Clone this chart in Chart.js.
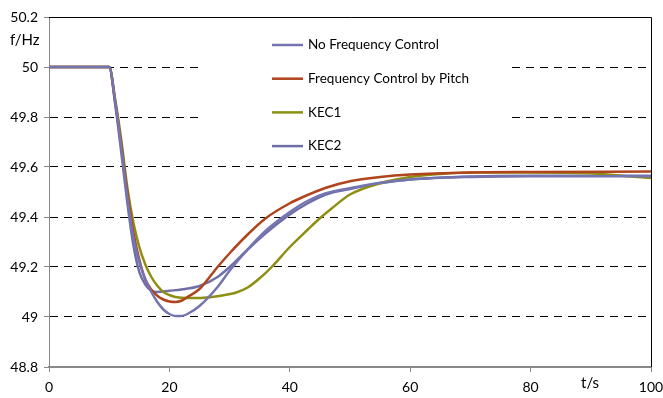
<!DOCTYPE html>
<html>
<head>
<meta charset="utf-8">
<script src="https://cdn.jsdelivr.net/npm/chart.js@4"></script>
<style>
  html, body { margin: 0; padding: 0; background: #fff; }
  #wrap { width: 663px; height: 398px; }
</style>
</head>
<body>
<div id="wrap"><canvas id="myChart"></canvas></div>
<script>
// time (s) and frequency (Hz)
const tNoCtrl = [0, 10, 11, 12, 13, 14, 15, 16, 17, 18, 19, 20, 21, 22, 23, 25, 28, 30, 33, 36, 40, 43, 46, 50, 55, 60, 70, 80, 100];
const fNoCtrl = [50, 50, 49.86, 49.68, 49.48, 49.32, 49.22, 49.15, 49.1, 49.06, 49.03, 49.012, 49.004, 49.004, 49.012, 49.044, 49.12, 49.185, 49.27, 49.345, 49.42, 49.465, 49.495, 49.515, 49.537, 49.55, 49.56, 49.563, 49.563];

const tPitch = [0, 10, 11, 12, 13, 14, 15, 16, 17, 18, 19, 20, 21, 22, 23, 25, 28, 30, 33, 36, 40, 42, 46, 50, 55, 60, 70, 80, 100];
const fPitch = [50, 50, 49.86, 49.69, 49.5, 49.34, 49.23, 49.15, 49.11, 49.085, 49.07, 49.062, 49.06, 49.065, 49.08, 49.112, 49.2, 49.255, 49.33, 49.395, 49.455, 49.478, 49.517, 49.543, 49.56, 49.57, 49.578, 49.58, 49.582];

const tKEC1 = [0, 10, 11, 12, 13, 14, 15, 16, 17, 18, 19, 20, 21, 23, 25, 27, 29, 31, 33, 35, 37, 40, 43, 45, 47, 50, 55, 60, 65, 70, 80, 90, 95, 100];
const fKEC1 = [50, 50, 49.87, 49.71, 49.52, 49.38, 49.28, 49.21, 49.16, 49.125, 49.1, 49.088, 49.08, 49.076, 49.076, 49.08, 49.087, 49.097, 49.118, 49.155, 49.2, 49.28, 49.35, 49.395, 49.435, 49.49, 49.535, 49.56, 49.572, 49.578, 49.578, 49.575, 49.565, 49.556];

const tKEC2 = [0, 10, 11, 12, 13, 14, 15, 16, 17, 18, 20, 22, 25, 28, 30, 33, 36, 40, 43, 46, 50, 55, 60, 70, 80, 100];
const fKEC2 = [50, 50, 49.85, 49.66, 49.46, 49.29, 49.18, 49.13, 49.105, 49.1, 49.105, 49.11, 49.124, 49.16, 49.2, 49.27, 49.335, 49.41, 49.455, 49.49, 49.512, 49.535, 49.55, 49.562, 49.565, 49.565];

const seriesNames = ['No Frequency Control', 'Frequency Control by Pitch', 'KEC1', 'KEC2'];
const seriesColors = ['#7474b0', '#b0441c', '#8e8e12', '#6f6fa8'];

const yTicks = [48.8, 49, 49.2, 49.4, 49.6, 49.8, 50, 50.2];
const xTicks = [0, 20, 40, 60, 80, 100];

const FONT = 'Lato, "Open Sans", sans-serif';

function toPoints(ts, fs)
{
    var pts = [];
    ts.forEach((t, i) => {
        pts.push({ x: t, y: fs[i] });
    });
    return pts;
}

const allSeries = [
    toPoints(tNoCtrl, fNoCtrl),
    toPoints(tPitch, fPitch),
    toPoints(tKEC1, fKEC1),
    toPoints(tKEC2, fKEC2),
];

// legend drawn as a white box inside the plot, plus axis titles and frame
const extras = {
    id: 'extras',
    beforeDatasetsDraw(chart)
    {
        const ctx = chart.ctx;
        ctx.save();
        ctx.fillStyle = '#fff';
        ctx.fillRect(198, 26, 310, 134);
        ctx.restore();
    },
    afterDatasetsDraw(chart)
    {
        const ctx = chart.ctx;
        const a = chart.chartArea;
        ctx.save();
        // frame top and right
        ctx.strokeStyle = '#000';
        ctx.lineWidth = 1;
        ctx.beginPath();
        ctx.moveTo(a.left, a.top + 0.5);
        ctx.lineTo(a.right + 0.5, a.top + 0.5);
        ctx.lineTo(a.right + 0.5, a.bottom);
        ctx.stroke();

        // legend
        ctx.font = '13.5px ' + FONT;
        ctx.textBaseline = 'middle';
        ctx.textAlign = 'left';
        chart.data.datasets.forEach((ds, i) => {
            const y = 45 + i * 33.7;
            ctx.strokeStyle = ds.borderColor;
            ctx.lineWidth = 2.5;
            ctx.beginPath();
            ctx.moveTo(272, y);
            ctx.lineTo(303, y);
            ctx.stroke();
            ctx.fillStyle = '#000';
            ctx.fillText(ds.label, 308, y);
        });

        // axis titles
        ctx.font = '15px ' + FONT;
        ctx.fillText('f/Hz', 10, 40);
        ctx.fillText('t/s', 581, 383);
        ctx.restore();
    }
};

const data = {
    datasets: allSeries.map((pts, i) => ({
        label: seriesNames[i],
        data: pts,
        borderColor: seriesColors[i],
        borderWidth: 2.5,
        pointRadius: 0,
        cubicInterpolationMode: 'monotone',
        fill: false,
    }))
};

const config = {
    type: 'line',
    data: data,
    options: {
        responsive: true,
        maintainAspectRatio: false,
        animation: false,
        layout: { padding: { top: 17, right: 12, left: 0, bottom: 0 } },
        plugins: {
            legend: { display: false },
            tooltip: { enabled: false },
        },
        scales: {
            x: {
                type: 'linear',
                min: 0,
                max: 100,
                afterBuildTicks: (s) => { s.ticks = xTicks.map(v => ({ value: v })); },
                afterFit: (s) => { s.height = 31; s.paddingLeft = 0; s.paddingRight = 0; },
                grid: {
                    drawOnChartArea: false,
                    drawTicks: true,
                    tickLength: 5,
                    tickColor: '#888',
                    tickBorderDash: [1, 0],
                },
                border: { color: '#888', width: 2 },
                ticks: {
                    color: '#000',
                    font: { family: FONT, size: 14 },
                    padding: 7,
                    maxRotation: 0,
                },
            },
            y: {
                type: 'linear',
                min: 48.8,
                max: 50.2,
                afterBuildTicks: (s) => { s.ticks = yTicks.map(v => ({ value: v })); },
                afterFit: (s) => { s.width = 49; s.paddingTop = 0; s.paddingBottom = 0; },
                grid: {
                    color: (c) => (c.tick && (c.tick.value < 48.9 || c.tick.value > 50.1)) ? 'rgba(0,0,0,0)' : '#000',
                    lineWidth: 1,
                    drawTicks: true,
                    tickLength: 5,
                    tickColor: '#888',
                    tickBorderDash: [1, 0],
                },
                border: { color: '#888', width: 1, dash: [8, 6] },
                ticks: {
                    color: '#000',
                    font: { family: FONT, size: 14 },
                    padding: 6,
                    callback: (v) => String(Number(v.toFixed(1))),
                },
            },
        },
    },
    plugins: [extras],
};

var myChart = new Chart(document.getElementById('myChart'), config);
</script>
</body>
</html>
